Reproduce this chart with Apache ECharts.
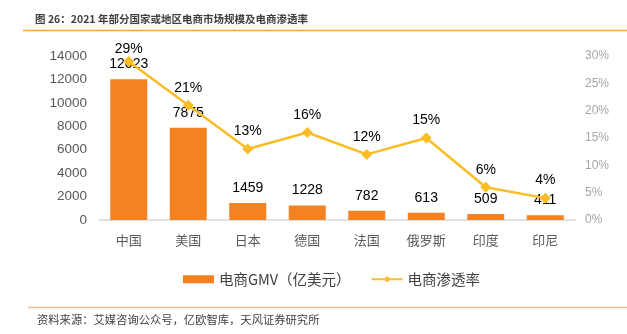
<!DOCTYPE html>
<html><head><meta charset="utf-8">
<script src="https://cdn.jsdelivr.net/npm/echarts@6/dist/echarts.min.js"></script>
<style>html,body{margin:0;padding:0;background:#fff;}#c{width:627px;height:334px;}</style>
</head><body><div id="c"></div>
<script>
const categories = ['中国','美国','日本','德国','法国','俄罗斯','印度','印尼'];
const gmv = [12023, 7875, 1459, 1228, 782, 613, 509, 411];
const penetration = [29, 21, 13, 16, 12, 15, 6, 4];
const titleText = '图 26：2021 年部分国家或地区电商市场规模及电商渗透率';
const sourceText = '资料来源：艾媒咨询公众号，亿欧智库，天风证券研究所';
const seriesNames = ['电商GMV（亿美元）', '电商渗透率'];

const chart = echarts.init(document.getElementById('c'), null, {renderer:'canvas'});
const numFont = '"Liberation Sans", Arial, "Noto Sans CJK SC", sans-serif';
const cjkFont = '"Noto Sans CJK SC", "Liberation Sans", sans-serif';
const lineData = penetration.map((v, i) => i === 0 ? {value: v, label: {distance: 0}} : v);
chart.setOption({
  animation:false,
  backgroundColor:'#fff',
  title:{text:titleText,left:30,top:9,textStyle:{fontFamily:cjkFont,fontSize:10.5,fontWeight:'bold',color:'#404040'}},
  graphic:[
    {type:'line',shape:{x1:23,y1:30.5,x2:627,y2:30.5},style:{stroke:'#F7A04B',lineWidth:1.5}},
    {type:'line',shape:{x1:28,y1:307.5,x2:627,y2:307.5},style:{stroke:'#F9B98A',lineWidth:1.5}},
    {type:'text',left:37,top:314,style:{text:sourceText,fontFamily:cjkFont,fontSize:11.3,fill:'#404040'}}
  ],
  legend:{top:267,left:178,itemGap:20,itemWidth:31,itemHeight:8,
    textStyle:{fontFamily:cjkFont,fontSize:14.5,color:'#404040'},
    data:[{name:seriesNames[0],icon:'rect'},{name:seriesNames[1]}]},
  grid:{left:99,right:52,top:56,bottom:114},
  xAxis:{type:'category',data:categories,
    axisLine:{lineStyle:{color:'#D9D9D9',width:1.5}},axisTick:{show:false},
    axisLabel:{fontFamily:cjkFont,fontSize:13,color:'#595959',margin:14}},
  yAxis:[
    {type:'value',min:0,max:14000,interval:2000,splitLine:{show:false},
     axisLabel:{formatter:v=>String(v),fontFamily:numFont,fontSize:13.5,color:'#595959',margin:12}},
    {type:'value',min:0,max:30,interval:5,splitLine:{show:false},
     axisLabel:{formatter:'{value}%',fontFamily:numFont,fontSize:12,color:'#A6A6A6',margin:10}}
  ],
  series:[
    {name:seriesNames[0],type:'bar',data:gmv,barWidth:37,itemStyle:{color:'#F58220'},
     label:{show:true,position:'top',distance:8,fontFamily:numFont,fontSize:14,color:'#000'}},
    {name:seriesNames[1],type:'line',yAxisIndex:1,data:lineData,
     symbol:'diamond',symbolSize:11,itemStyle:{color:'#FBBD24'},lineStyle:{color:'#FBBD24',width:2.5},
     label:{show:true,position:'top',distance:5,formatter:'{c}%',fontFamily:numFont,fontSize:14,color:'#000'}}
  ]
});
</script></body></html>
